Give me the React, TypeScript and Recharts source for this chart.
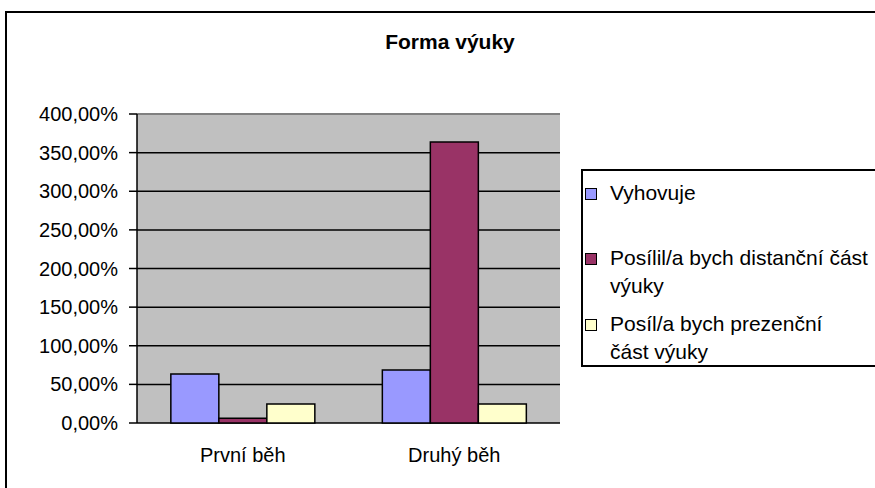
import React from 'react';
import { BarChart, Bar, XAxis, YAxis, CartesianGrid, ReferenceLine } from 'recharts';

const categories = ['První běh', 'Druhý běh'];
const vyhovuje = [63.4, 68.6];
const distancni = [6.1, 363.8];
const prezencni = [24.6, 24.6];
const yTicks = [0, 50, 100, 150, 200, 250, 300, 350, 400];

const series = [
    { key: 'vyhovuje', name: 'Vyhovuje', color: '#9999ff', values: vyhovuje },
    { key: 'distancni', name: 'Posílil/a bych distanční část\nvýuky', color: '#993366', values: distancni },
    { key: 'prezencni', name: 'Posíl/a bych prezenční\nčást výuky', color: '#ffffcc', values: prezencni },
];

const data = categories.map((name, i) => {
    const row: Record<string, string | number> = { name, idx: i + 0.5 };
    series.forEach((s) => {
        row[s.key] = s.values[i];
    });
    return row;
});

const font = '"Liberation Sans", Arial, sans-serif';

const formatPct = (v: number) => v.toFixed(2).replace('.', ',') + '%';

const App = () => {
    return (
        <div style={{ position: 'absolute', left: 0, top: 0, width: 875, height: 488, overflow: 'hidden', background: '#fff', fontFamily: font }}>
            {/* outer chart frame */}
            <div style={{ position: 'absolute', left: 5, top: 11, width: 900, height: 520, border: '2px solid #000', boxSizing: 'border-box' }} />
            <div style={{ position: 'absolute', left: 0, top: 30, width: 900, textAlign: 'center', fontWeight: 'bold', fontSize: 21, color: '#000' }}>
                Forma výuky
            </div>

            <BarChart
                width={875}
                height={488}
                data={data}
                margin={{ top: 114, right: 315, bottom: 0, left: 0 }}
                barGap={0}
                barCategoryGap="16%"
                style={{ position: 'absolute', left: 0, top: 0 }}
            >
                <CartesianGrid fill="#c0c0c0" fillOpacity={1} stroke="#000" strokeWidth={1.5} vertical={false} />
                <XAxis
                    xAxisId="frame"
                    type="number"
                    dataKey="idx"
                    domain={[0, 2]}
                    ticks={[0, 1, 2]}
                    tick={false}
                    tickSize={7}
                    height={0}
                    axisLine={{ stroke: '#000', strokeWidth: 1.5 }}
                    tickLine={{ stroke: '#000', strokeWidth: 1.5 }}
                />
                <XAxis
                    dataKey="name"
                    height={65}
                    axisLine={false}
                    tickLine={false}
                    tickSize={0}
                    tickMargin={25}
                    tick={{ fill: '#000', fontSize: 20, fontFamily: font }}
                />
                <YAxis
                    width={137}
                    domain={[0, 400]}
                    ticks={yTicks}
                    interval={0}
                    tickFormatter={formatPct}
                    tickSize={8}
                    tickMargin={11}
                    axisLine={{ stroke: '#000', strokeWidth: 1.5 }}
                    tickLine={{ stroke: '#000', strokeWidth: 1.5 }}
                    tick={{ fill: '#000', fontSize: 20, fontFamily: font }}
                />
                <YAxis
                    yAxisId="right"
                    orientation="right"
                    width={0}
                    domain={[0, 400]}
                    tick={false}
                    tickLine={false}
                    axisLine={{ stroke: '#808080', strokeWidth: 2 }}
                />
                <ReferenceLine y={400} stroke="#808080" strokeWidth={2} />
                {series.map((s) => (
                    <Bar
                        key={s.key}
                        dataKey={s.key}
                        name={s.name}
                        fill={s.color}
                        stroke="#000"
                        strokeWidth={1.5}
                        isAnimationActive={false}
                    />
                ))}
            </BarChart>

            {/* legend */}
            <div
                style={{
                    position: 'absolute',
                    left: 581,
                    top: 169,
                    width: 320,
                    height: 198,
                    border: '2px solid #000',
                    boxSizing: 'border-box',
                    paddingTop: 8,
                    fontSize: 21,
                    lineHeight: '28px',
                    color: '#000',
                }}
            >
                {series.map((s, i) => (
                    <div key={s.key} style={{ position: 'relative', paddingLeft: 27, marginBottom: i === 0 ? 37 : 10, whiteSpace: 'pre-line' }}>
                        <span
                            style={{
                                position: 'absolute',
                                left: 2,
                                top: 9,
                                width: 10,
                                height: 10,
                                background: s.color,
                                border: '1.5px solid #000',
                            }}
                        />
                        {s.name}
                    </div>
                ))}
            </div>
        </div>
    );
};

export default App;
